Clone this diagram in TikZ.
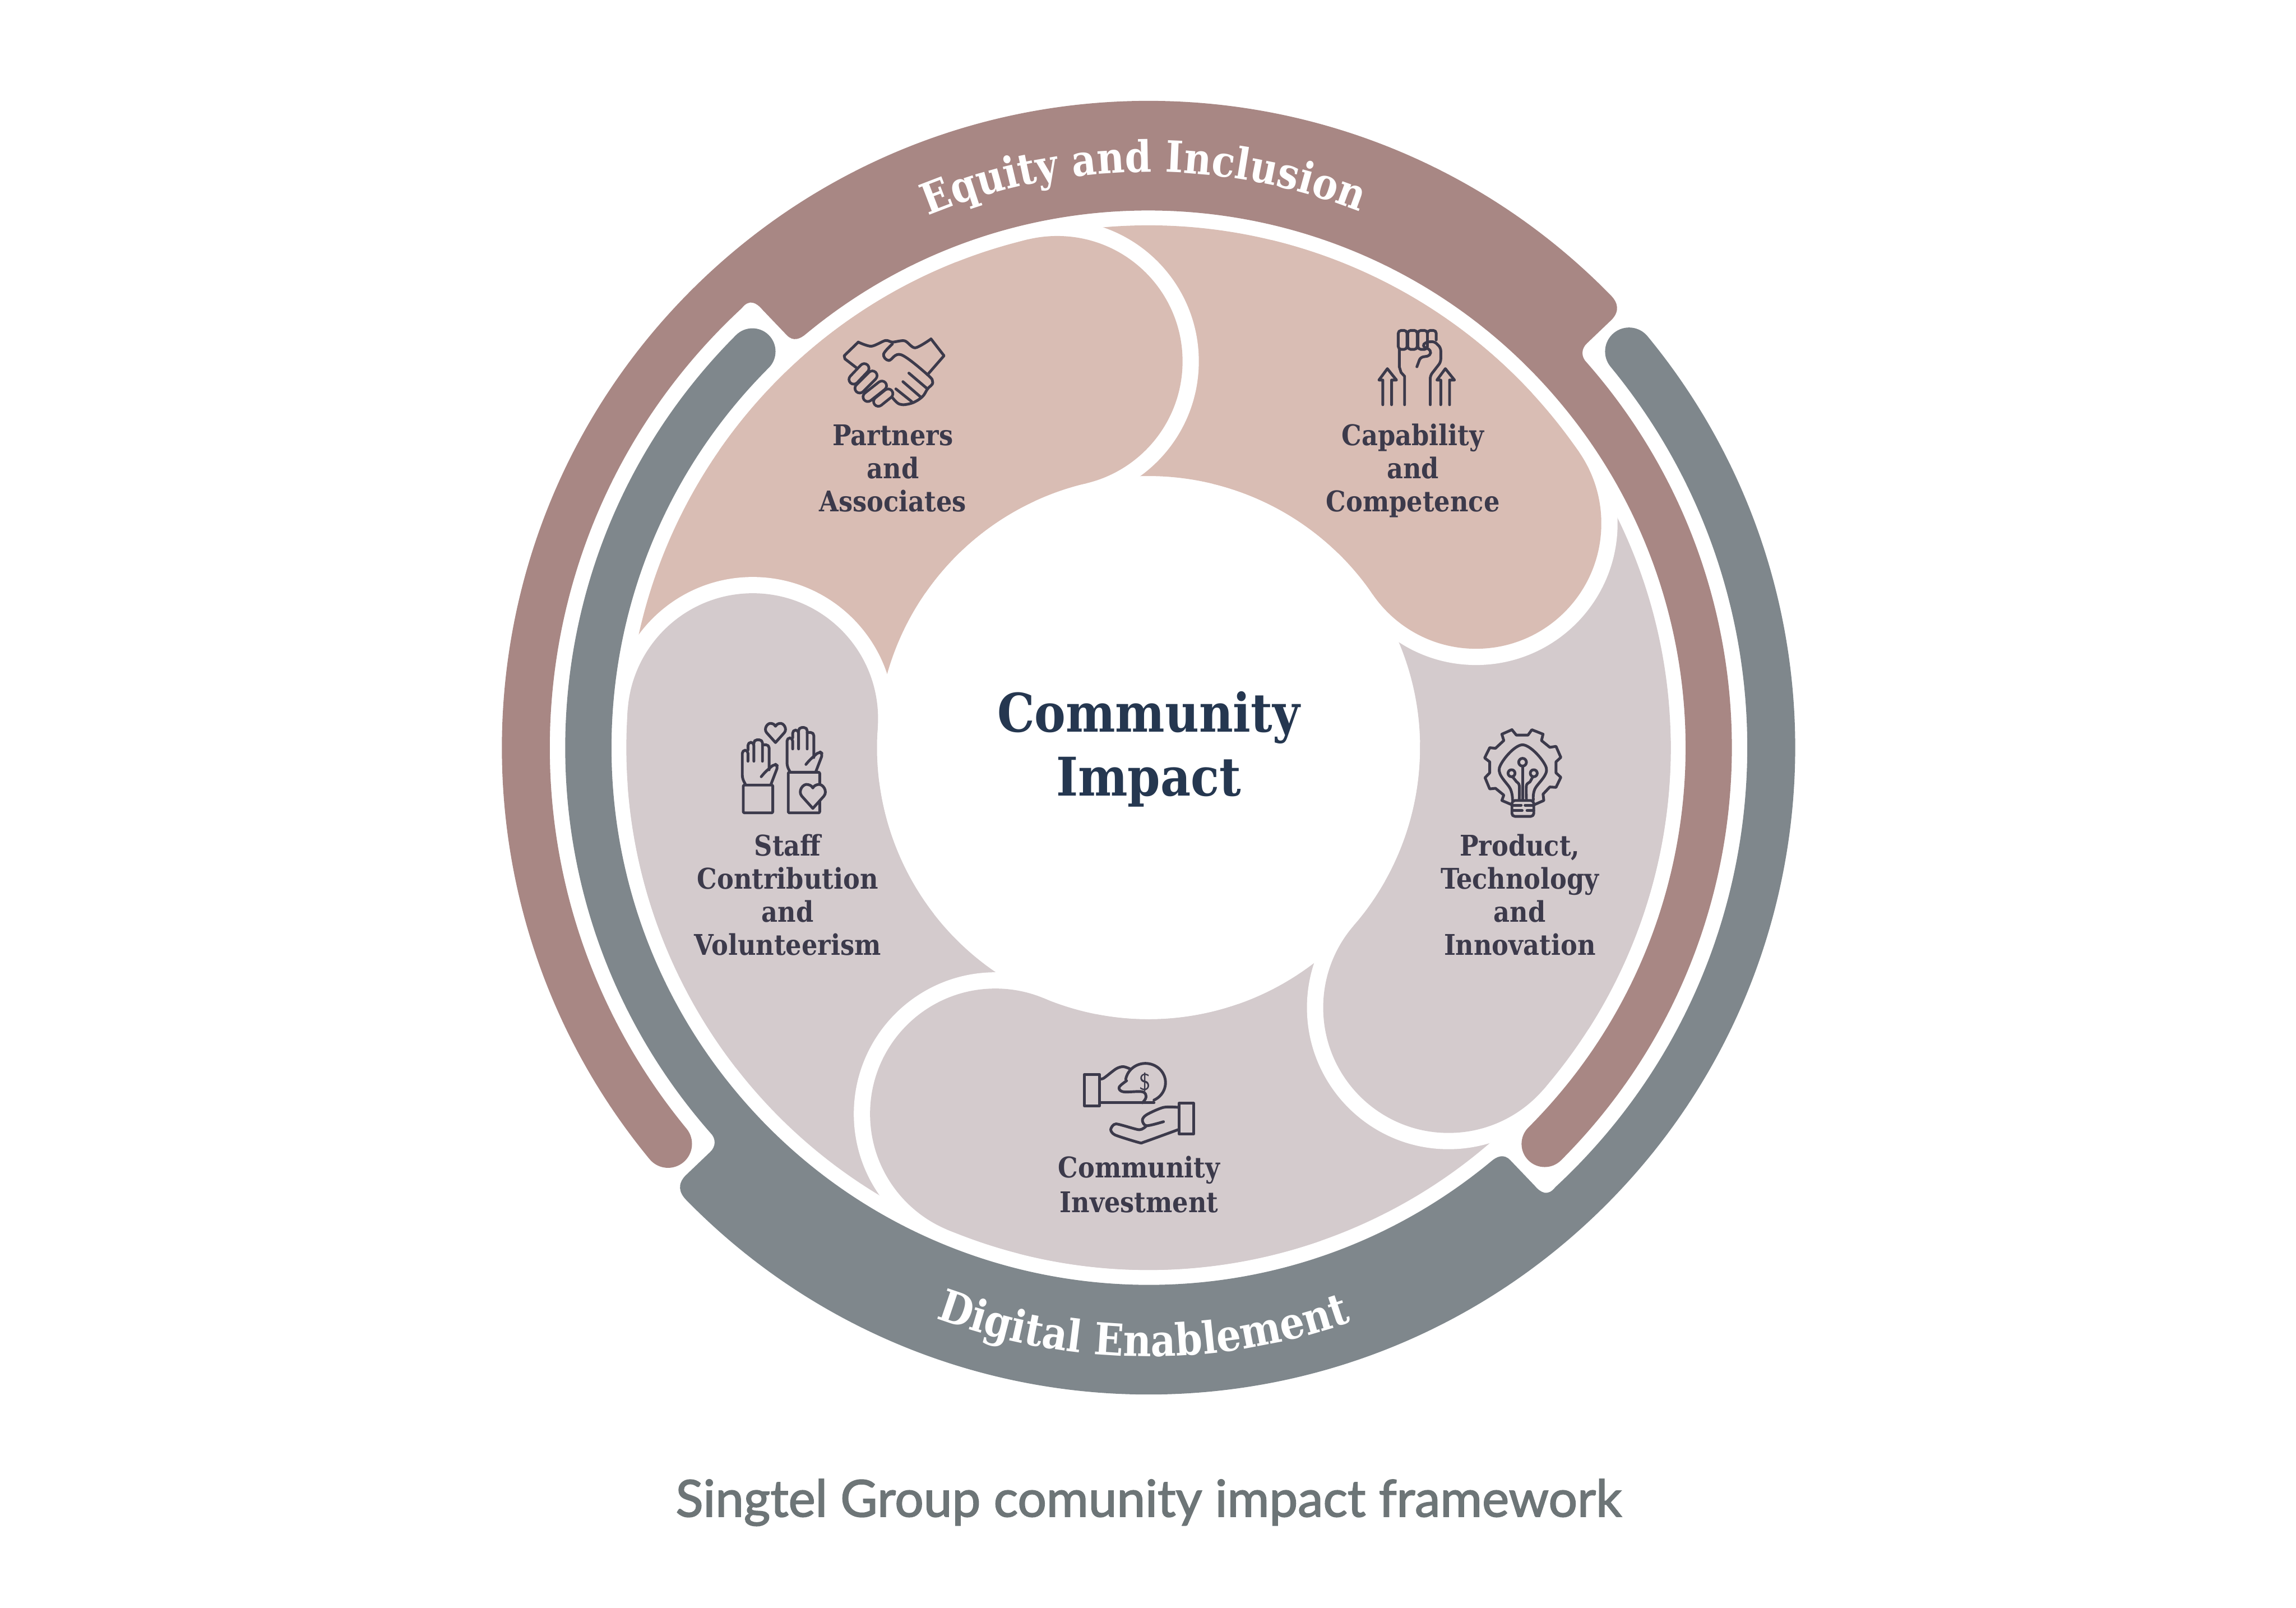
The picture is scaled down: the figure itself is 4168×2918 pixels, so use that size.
\documentclass[tikz,border=0pt]{standalone}
\usepackage{fontspec}
\setmainfont{DejaVu Serif}
\newfontfamily\slabfont[FakeStretch=.88]{DejaVu Serif}
\newfontfamily\capfont[FakeBold=2]{Lato}
\usetikzlibrary{
    decorations.text,
    positioning
}
\definecolor{brownband}{HTML}{A88784}
\definecolor{greyband}{HTML}{7F878C}
\definecolor{pinkpetal}{HTML}{D9BDB4}
\definecolor{lilacpetal}{HTML}{D4CBCD}
\definecolor{inkdark}{HTML}{3C3A4B}
\definecolor{navyink}{HTML}{253750}
\definecolor{captiongrey}{HTML}{6D7577}
\newcommand{\bandshape}{(44.4:1174) arc[start angle=44.4,end angle=219.5,radius=1174] arc[start angle=219.5,delta angle=180,radius=43.5] arc[start angle=219.5,end angle=132.8,radius=1087] .. controls (-725,815) and (-712,808) .. (-701,795) -- (-657,749) .. controls (-645,736) and (-632,742) .. (129.6:975) arc[start angle=129.6,end angle=-45,radius=975] arc[start angle=135,delta angle=180,radius=42] arc[start angle=-45,end angle=41.3,radius=1059] .. controls (785,709) and (785,724) .. (796,734) -- (841,777) .. controls (855,792) and (853,807) .. cycle}
\newcommand{\petalsector}[2]{(#1:948) arc[start angle=#1,end angle=#2,radius=948] -- (#2:493) arc[start angle=#2,end angle=#1,radius=493] -- cycle}
\begin{document}
\begin{tikzpicture}[x=0.01cm,y=0.01cm,
    iconline/.style={draw=inkdark,line width=0.05cm,line cap=round,line join=round},
    capsule/.style={iconline,double=#1,double distance=0.12cm},
    itemlabel/.style={text=inkdark,align=center,font=\slabfont\bfseries\fontsize{14.7}{17}\selectfont,inner sep=0pt},
    heartmark/.pic={\path[iconline,pic actions] (0,55) -- (-45,5) .. controls (-62,-15) and (-40,-48) .. (-20,-42) .. controls (-10,-40) and (-3,-35) .. (0,-28) .. controls (3,-35) and (10,-40) .. (20,-42) .. controls (40,-48) and (62,-15) .. (45,5) -- cycle;}]
\useasboundingbox (-2085,-1561) rectangle (2083,1357);
\foreach \ang/\col in {103.3/pinkpetal,34.4/pinkpetal,-40.9/lilacpetal,-112.7/lilacpetal,175.8/lilacpetal} \fill[\col] \petalsector{\ang}{\ang+72};
\foreach \ang/\col in {103.3/pinkpetal,34.4/pinkpetal,-40.9/lilacpetal,-112.7/lilacpetal,175.8/lilacpetal} {
    \fill[white] (\ang:720.5) circle[radius=257];
    \fill[\col] (\ang:720.5) circle[radius=227.5];
    \fill[\col] \petalsector{\ang}{\ang+42};
}
\fill[brownband] \bandshape;
\fill[greyband,rotate=180] \bandshape;
\path[decorate,decoration={text along path,text={|\slabfont\bfseries\fontsize{22.3}{22}\selectfont\color{white}|Equity and Inclusion},text align=center}] (135.5:1045) arc[start angle=135.5,end angle=45.5,radius=1045];
\path[decorate,decoration={text along path,text={|\slabfont\bfseries\fontsize{22.8}{22}\selectfont\color{white}|Digital Enablement},text align=center}] (224.5:1105) arc[start angle=224.5,end angle=314.5,radius=1105];
\node[text=navyink,align=center,font=\slabfont\bfseries\fontsize{27.5}{33}\selectfont] (impact) at (0,-3) {Community\\Impact};
\node[itemlabel] (partners) at (-464,507) {Partners\\and\\Associates};
\node[itemlabel] (capability) at (480,503) {Capability\\and\\Competence};
\node[itemlabel] (staff) at (-655,-267) {Staff\\Contribution\\and\\Volunteerism};
\node[itemlabel] (product) at (674,-267) {Product,\\Technology\\and\\Innovation};
\node[itemlabel,font=\slabfont\bfseries\fontsize{14.7}{18}\selectfont] (investment) at (-17,-793) {Community\\Investment};
\node[text=captiongrey,font=\capfont\fontsize{26.3}{30}\selectfont] (framework) at (0,-1370) {Singtel Group comunity impact framework};
\begin{scope}[shift={(-985,1007)},xscale=.638,yscale=-.574]
    \draw[iconline] plot[smooth,tension=.5] coordinates {(718,472)(755,485)(795,467)(815,472)(850,468)(880,490)(925,462)};
    \draw[iconline] (715,555)--(680,525)--(678,515)--(718,472);
    \draw[iconline] (925,462)--(962,515)--(915,575);
    \draw[iconline] plot[smooth,tension=.6] coordinates {(815,478)(790,510)(805,530)(840,512)(915,575)(930,600)(915,620)(900,645)(870,665)(835,668)(810,640)};
    \foreach \xa/\ya/\xb/\yb in {735/555/705/590,758/578/722/618,785/610/745/645,803/635/775/660} \draw[capsule=pinkpetal] (\xa,\ya)--(\xb,\yb);
    \foreach \xa/\ya/\xb/\yb in {862/570/915/620,845/597/895/645,825/620/870/660} \draw[iconline] (\xa,\ya)--(\xb,\yb);
\end{scope}
\begin{scope}[shift={(15,1007)},xscale=.638,yscale=-.574]
    \foreach \xa/\xb in {687/712,714/741,743/770} \draw[iconline,rounded corners=1.5pt] (\xa,495) rectangle (\xb,435);
    \draw[iconline,rounded corners=1.5pt] (770,465)--(770,435)--(795,435)--(795,465);
    \draw[iconline] (690,495)--(690,550)--(695,568)--(705,580)--(705,670);
    \draw[iconline,rounded corners=1.5pt] (778,670)--(778,578)--(808,535)--(808,490)--(790,470)--(765,472)--(755,485)--(780,497)--(778,515)--(750,520)--(740,550);
    \foreach \s in {0,165} \draw[iconline] (643+\s,670)--(643+\s,592)--(632+\s,592)--(656+\s,556)--(682+\s,592)--(668+\s,592)--(668+\s,670);
\end{scope}
\begin{scope}[shift={(-935,107)},scale=.446,yscale=-1]
    \draw[iconline,rounded corners=.6pt] (447,392) rectangle (567,505);
    \draw[iconline,rounded corners=.6pt] (630,340) rectangle (758,505);
    \foreach \dx/\dy in {0/0,182/-50} {
        \begin{scope}[shift={(\dx,\dy)}]
            \draw[iconline,rounded corners=1.6pt] (455,388)--(443,365)--(443,250)--(466,250)--(466,295);
            \draw[iconline,rounded corners=1.6pt] (466,250)--(466,218)--(490,218)--(490,295);
            \draw[iconline,rounded corners=1.6pt] (490,225)--(490,208)--(525,208)--(525,295);
            \draw[iconline,rounded corners=1.6pt] (525,228)--(552,228)--(552,330);
            \draw[iconline,rounded corners=1.6pt] (520,358)--(535,340)--(552,325)--(575,305)--(588,315)--(560,388);
        \end{scope}
    }
    \pic[transform shape,fill=none,scale=.8] at (578,175) {heartmark};
    \pic[transform shape,fill=lilacpetal] at (730,432) {heartmark};
\end{scope}
\begin{scope}[shift={(-285,-493)},xscale=.383,yscale=-.333]
    \draw[iconline] (440,300) rectangle (512,472);
    \draw[iconline] (888,458) rectangle (958,625);
    \draw[iconline] plot[smooth,tension=.5] coordinates {(512,322)(530,322)(590,270)(625,258)(660,272)};
    \draw[iconline] (512,455)--(770,455);
    \draw[iconline] (636,327) arc[start angle=-170,delta angle=235,x radius=95,y radius=105];
    \draw[iconline] plot[smooth,tension=.6] coordinates {(640,335)(605,370)(625,395)(715,395)(732,425)(715,455)};
    \draw[iconline] plot[smooth,tension=.5] coordinates {(888,480)(815,480)(735,520)(715,550)(735,580)(815,558)};
    \draw[iconline] plot[smooth,tension=.4] coordinates {(735,580)(700,602)(590,570)(565,600)(585,630)(700,672)(725,668)(888,600)};
    \node[text=inkdark,font=\sffamily\fontsize{12}{12}\selectfont,inner sep=0pt] (coinsign) at (727,342) {\$};
\end{scope}
\begin{scope}[shift={(415,107)},scale=.351,yscale=-1]
    \draw[iconline] (697,212)--(720,240)--(780,240)--(800,212)--(858,235)--(850,268)--(893,303)--(925,298)--(950,355)--(925,378)--(925,435)--(950,458)--(925,510)--(893,508)--(858,545)--(862,578)--(812,600);
    \draw[iconline] (697,600)--(645,578)--(655,550)--(612,515)--(582,518)--(558,460)--(582,435)--(582,378)--(556,358)--(582,305)--(612,308)--(655,268)--(645,235)--(697,212);
    \draw[iconline] plot[smooth,tension=.6] coordinates {(700,575)(690,520)(632,410)(752,290)(875,410)(815,520)(808,575)};
    \draw[iconline,rounded corners=1.5pt] (697,578)--(697,660)--(810,660)--(810,578)--cycle;
    \foreach \xa/\xb/\yy in {700/745/602,765/810/602,700/750/630,775/810/630} \draw[iconline] (\xa,\yy)--(\xb,\yy);
    \draw[iconline] (752,575)--(752,400);
    \draw[iconline] (752,380) circle[radius=20];
    \draw[iconline] (695,437) circle[radius=18];
    \draw[iconline] (810,437) circle[radius=18];
    \draw[iconline] plot[smooth,tension=.5] coordinates {(735,575)(735,500)(720,480)(700,455)};
    \draw[iconline] plot[smooth,tension=.5] coordinates {(772,575)(772,500)(790,482)(805,455)};
\end{scope}
\end{tikzpicture}
\end{document}
